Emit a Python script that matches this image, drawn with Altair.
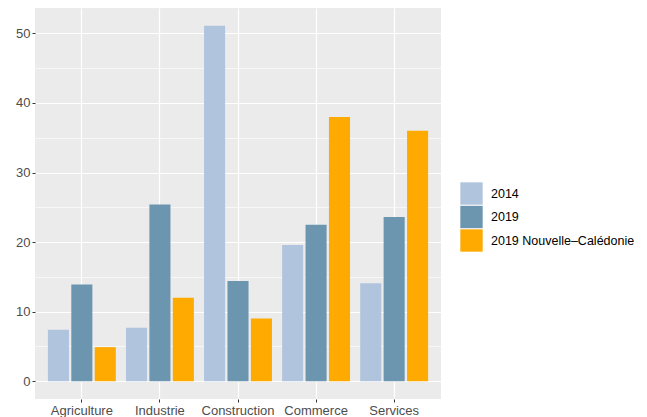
import altair as alt
import pandas as pd

secteurs = ["Agriculture", "Industrie", "Construction", "Commerce", "Services"]
series = ["2014", "2019", "2019 Nouvelle–Calédonie"]
v2014 = [7.4, 7.7, 51.1, 19.6, 14.1]
v2019 = [13.9, 25.4, 14.4, 22.5, 23.6]
v_nc = [4.9, 12.0, 9.0, 38.0, 36.0]
couleurs = ["#B0C4DE", "#6C96B0", "#FFAA00"]
y_ticks = [0, 5, 10, 15, 20, 25, 30, 35, 40, 45, 50]

rows = []
for s, vals in zip(series, [v2014, v2019, v_nc]):
    for c, v in zip(secteurs, vals):
        rows.append({"secteur": c, "serie": s, "valeur": v})
df = pd.DataFrame(rows)

ymax = max(v2014 + v2019 + v_nc)
exp = ymax * 0.05

font = "Liberation Sans"

chart = alt.Chart(df).mark_bar().encode(
    x=alt.X("secteur:N", sort=secteurs, title=None,
            scale=alt.Scale(paddingInner=0.1, paddingOuter=0.15),
            axis=alt.Axis(grid=True, bandPosition=0.5, labelAngle=0,
                          gridColor="white", gridWidth=1.2,
                          domain=False, tickColor="#333333", tickSize=3,
                          labelColor="#4D4D4D", labelFontSize=13,
                          labelFont=font, labelPadding=2)),
    xOffset=alt.XOffset("serie:N", sort=series,
                        scale=alt.Scale(paddingInner=0.1, paddingOuter=0.05)),
    y=alt.Y("valeur:Q", title=None,
            scale=alt.Scale(domain=[-exp, ymax + exp], nice=False, zero=False),
            axis=alt.Axis(values=y_ticks, grid=True, domain=False,
                          gridColor="white",
                          gridWidth={"condition": {"test": "datum.value % 10 === 0", "value": 1.2}, "value": 0.6},
                          tickColor={"condition": {"test": "datum.value % 10 === 0", "value": "#333333"}, "value": "transparent"},
                          tickSize=3,
                          labelExpr="datum.value % 10 === 0 ? datum.label : ''",
                          labelColor="#4D4D4D", labelFontSize=13,
                          labelFont=font, labelPadding=2)),
    color=alt.Color("serie:N", sort=series, title=None,
                    scale=alt.Scale(domain=series, range=couleurs),
                    legend=alt.Legend(orient="none", legendX=425, legendY=174,
                                      symbolType="square", symbolSize=500,
                                      symbolStrokeWidth=0, symbolOpacity=1,
                                      rowPadding=0.5, padding=0,
                                      labelFontSize=12.5, labelFont=font,
                                      labelColor="black", labelOffset=8,
                                      labelLimit=250)),
).properties(
    width=406,
    height=391,
    padding={"left": 27, "top": 0, "right": 198, "bottom": 18},
    autosize="none",
).configure_view(
    fill="#EBEBEB", stroke=None
)

chart.save("out.html", embed_options={"renderer": "svg", "actions": False})
